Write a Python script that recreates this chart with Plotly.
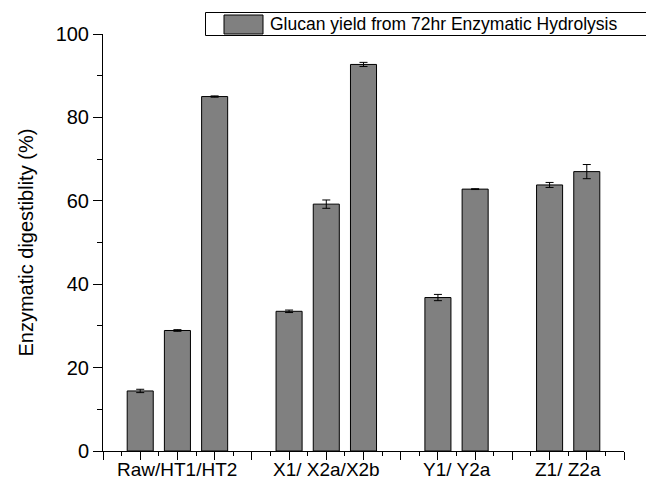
import plotly.graph_objects as go

# Glucan yield after 72 h enzymatic hydrolysis, per pretreatment sample
samples = ["Raw", "HT1", "HT2", "X1", "X2a", "X2b", "Y1", "Y2a", "Z1", "Z2a"]
slot = [1, 2, 3, 5, 6, 7, 9, 10, 12, 13]
digestibility = [14.4, 28.9, 85.0, 33.5, 59.2, 92.7, 36.8, 62.8, 63.8, 67.0]
std_err = [0.4, 0.2, 0.15, 0.3, 1.0, 0.5, 0.75, 0.1, 0.6, 1.7]

group_labels = ["Raw/HT1/HT2", "X1/ X2a/X2b", "Y1/ Y2a", "Z1/ Z2a"]
group_pos = [2, 6, 9.5, 12.5]

legend_text = "Glucan yield from 72hr Enzymatic Hydrolysis"
y_title = "Enzymatic digestiblity (%)"

W, H = 646, 483
L, R, T, B = 103, 22, 34, 32
pw, ph = W - L - R, H - T - B


def px_x(p):
    return (p - L) / pw


def px_y(p):
    return (H - B - p) / ph


FONT = "Arial, Liberation Sans, sans-serif"

fig = go.Figure()
fig.add_trace(go.Bar(
    x=slot, y=digestibility, width=0.7,
    customdata=samples,
    marker=dict(color="#808080", line=dict(color="black", width=1)),
    error_y=dict(type="data", array=std_err, visible=True,
                 color="black", thickness=1, width=4),
    showlegend=False,
))

# group labels under the x axis
for lab, pos in zip(group_labels, group_pos):
    fig.add_annotation(x=pos, xref="x", y=px_y(469), yref="paper",
                       text=lab, showarrow=False, xanchor="center",
                       yanchor="middle", font=dict(size=19, color="black", family=FONT))

# y axis title
fig.add_annotation(x=px_x(25), xref="paper", y=0.5, yref="paper",
                   text=y_title, textangle=-90, showarrow=False,
                   xanchor="center", yanchor="middle",
                   font=dict(size=20, color="black", family=FONT))

# legend box
fig.add_shape(type="rect", xref="paper", yref="paper",
              x0=px_x(205.5), x1=px_x(660), y0=px_y(12.5), y1=px_y(35.5),
              line=dict(color="black", width=1), fillcolor="white")
fig.add_shape(type="rect", xref="paper", yref="paper",
              x0=px_x(224), x1=px_x(263), y0=px_y(15), y1=px_y(34),
              line=dict(color="black", width=1), fillcolor="#808080")
fig.add_annotation(x=px_x(268), xref="paper", y=px_y(24), yref="paper",
                   text=legend_text, showarrow=False, xanchor="left",
                   yanchor="middle", font=dict(size=17.5, color="black", family=FONT))

fig.update_layout(
    width=W, height=H,
    margin=dict(l=L, r=R, t=T, b=B, pad=0),
    paper_bgcolor="white", plot_bgcolor="white",
    font=dict(family=FONT, color="black"),
    xaxis=dict(range=[0, 14], tickmode="linear", tick0=0, dtick=1,
               ticks="outside", ticklen=8, tickwidth=1, tickcolor="black",
               showticklabels=False, showline=True, linecolor="black",
               linewidth=1, showgrid=False, zeroline=False,
               minor=dict(dtick=0.5, tick0=0, ticks="outside", ticklen=4,
                          tickwidth=1, tickcolor="black")),
    yaxis=dict(range=[0, 100], tickmode="linear", tick0=0, dtick=20,
               ticks="outside", ticklen=9, tickwidth=1, tickcolor="black",
               tickfont=dict(size=20, color="black", family=FONT),
               showline=True, linecolor="black", linewidth=1,
               showgrid=False, zeroline=False,
               minor=dict(dtick=10, tick0=0, ticks="outside", ticklen=5,
                          tickwidth=1, tickcolor="black")),
)

fig.write_html("out.html")
